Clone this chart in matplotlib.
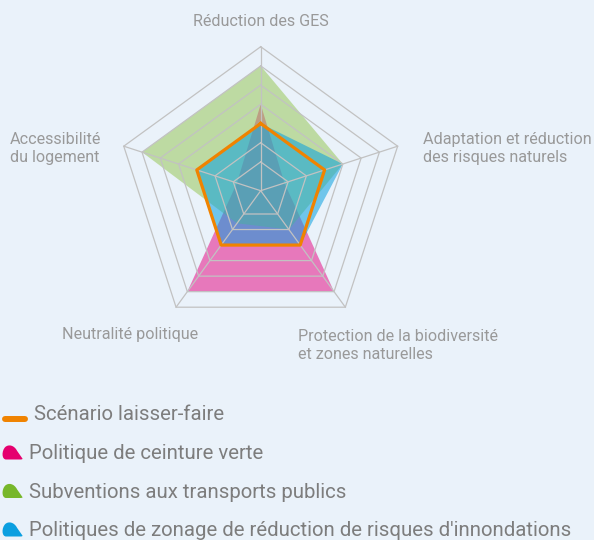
import numpy as np
import matplotlib
matplotlib.use("Agg")
import matplotlib.pyplot as plt
from matplotlib.path import Path
from matplotlib.patches import PathPatch

# ---------------- data ----------------
categories = ["Réduction des GES",
              "Adaptation et réduction\ndes risques naturels",
              "Protection de la biodiversité\net zones naturelles",
              "Neutralité politique",
              "Accessibilité\ndu logement"]
series_names = ["Scénario laisser-faire",
                "Politique de ceinture verte",
                "Subventions aux transports publics",
                "Politiques de zonage de réduction de risques d'innondations"]
laisser_faire = [3, 3, 3, 3, 3]
ceinture_verte = [4, 0.8, 6, 6, 0.8]
transports_publics = [6, 4, 2, 1.6, 6]
zonage_inondations = [3, 4, 3, 3, 3]
grid_levels = [1, 2, 3, 4, 5, 6, 7]
r_min, r_max = -0.5, 7

# ---------------- style ----------------
BG = "#EAF2FA"
GRID = "#C2C2C2"
ORANGE = "#F08300"
PINK_FILL, PINK_LEG = "#E5007E", "#E5006E"
GREEN_FILL, GREEN_LEG = "#92C44C", "#77B72A"
BLUE_FILL, BLUE_LEG = "#0AA0DF", "#0B9FE0"
LABEL_COLOR = "#999999"
LEGEND_COLOR = "#7D7D7D"
FONT = "Roboto"

W, H = 594, 540
fig = plt.figure(figsize=(W / 100, H / 100), dpi=100, facecolor=BG)

# polar axes: center (260.7, 190.7) px, radius 144 px
cx, cy, R = 260.7, 190.7, 144.0
ax = fig.add_axes([(cx - R) / W, (H - cy - R) / H, 2 * R / W, 2 * R / H],
                  projection="polar")
ax.set_theta_offset(np.pi / 2)
ax.set_theta_direction(-1)
ax.set_ylim(r_min, r_max)
ax.axis("off")

n = len(categories)
angles = np.arange(n) * 2 * np.pi / n
ang_c = np.append(angles, angles[0])


def closed(v):
    return np.append(np.asarray(v, float), v[0])


# fills (series order: pink, green, blue)
ax.fill(ang_c, closed(ceinture_verte), color=PINK_FILL, alpha=0.5, lw=0, zorder=1)
ax.fill(ang_c, closed(transports_publics), color=GREEN_FILL, alpha=0.5, lw=0, zorder=2)
ax.fill(ang_c, closed(zonage_inondations), color=BLUE_FILL, alpha=0.55, lw=0, zorder=3)

# polygon grid
for lv in grid_levels:
    ax.plot(ang_c, [lv] * (n + 1), color=GRID, lw=0.9, zorder=4, clip_on=False)
for a in angles:
    ax.plot([a, a], [r_min, r_max], color=GRID, lw=0.9, zorder=4, clip_on=False)

# line series
ax.plot(ang_c, closed(laisser_faire), color=ORANGE, lw=2.3, zorder=5,
        solid_joinstyle="round", clip_on=False)

# ---------------- overlay in pixel coordinates ----------------
ov = fig.add_axes([0, 0, 1, 1])
ov.set_xlim(0, W)
ov.set_ylim(H, 0)
ov.axis("off")

label_pos = [(261, 22, "center"), (423, 148.5, "left"), (298, 345.5, "left"),
             (198, 335, "right"), (101, 148.5, "right")]
for txt, (x, y, ha) in zip(categories, label_pos):
    ov.text(x, y, txt, ha=ha, va="center", fontsize=11.6, color=LABEL_COLOR,
            family=FONT, linespacing=1.22, multialignment="left")

# legend
leg_y = [414, 453.5, 492, 530.5]
leg_colors = [ORANGE, PINK_LEG, GREEN_LEG, BLUE_LEG]


def leaf(x0, yb, w=21.0, h=14.5):
    # teardrop: rounded left/top, pointed bottom-right tip, flat bottom
    verts = [(0.22, 0.0),
             (0.0, 0.0), (0.0, 0.6), (0.18, 0.86),
             (0.33, 1.06), (0.6, 1.0), (0.74, 0.6),
             (1.0, 0.06),
             (1.02, 0.0), (0.9, 0.0),
             (0.22, 0.0),
             (0.22, 0.0)]
    codes = [Path.MOVETO,
             Path.CURVE4, Path.CURVE4, Path.CURVE4,
             Path.CURVE4, Path.CURVE4, Path.CURVE4,
             Path.LINETO,
             Path.CURVE3, Path.CURVE3,
             Path.LINETO,
             Path.CLOSEPOLY]
    v = [(x0 + px * w, yb - py * h) for px, py in verts]
    return Path(v, codes)


for i, (name, col, y) in enumerate(zip(series_names, leg_colors, leg_y)):
    if i == 0:
        ov.plot([5, 25], [y + 4.5, y + 4.5], color=col, lw=4.3, solid_capstyle="round")
        tx = 34
    else:
        ov.add_patch(PathPatch(leaf(1.5, y + 6), facecolor=col, edgecolor="none"))
        tx = 29
    ov.text(tx, y, name, ha="left", va="center", fontsize=14.7,
            color=LEGEND_COLOR, family=FONT)

fig.savefig("out.png", dpi=100, facecolor=BG)
